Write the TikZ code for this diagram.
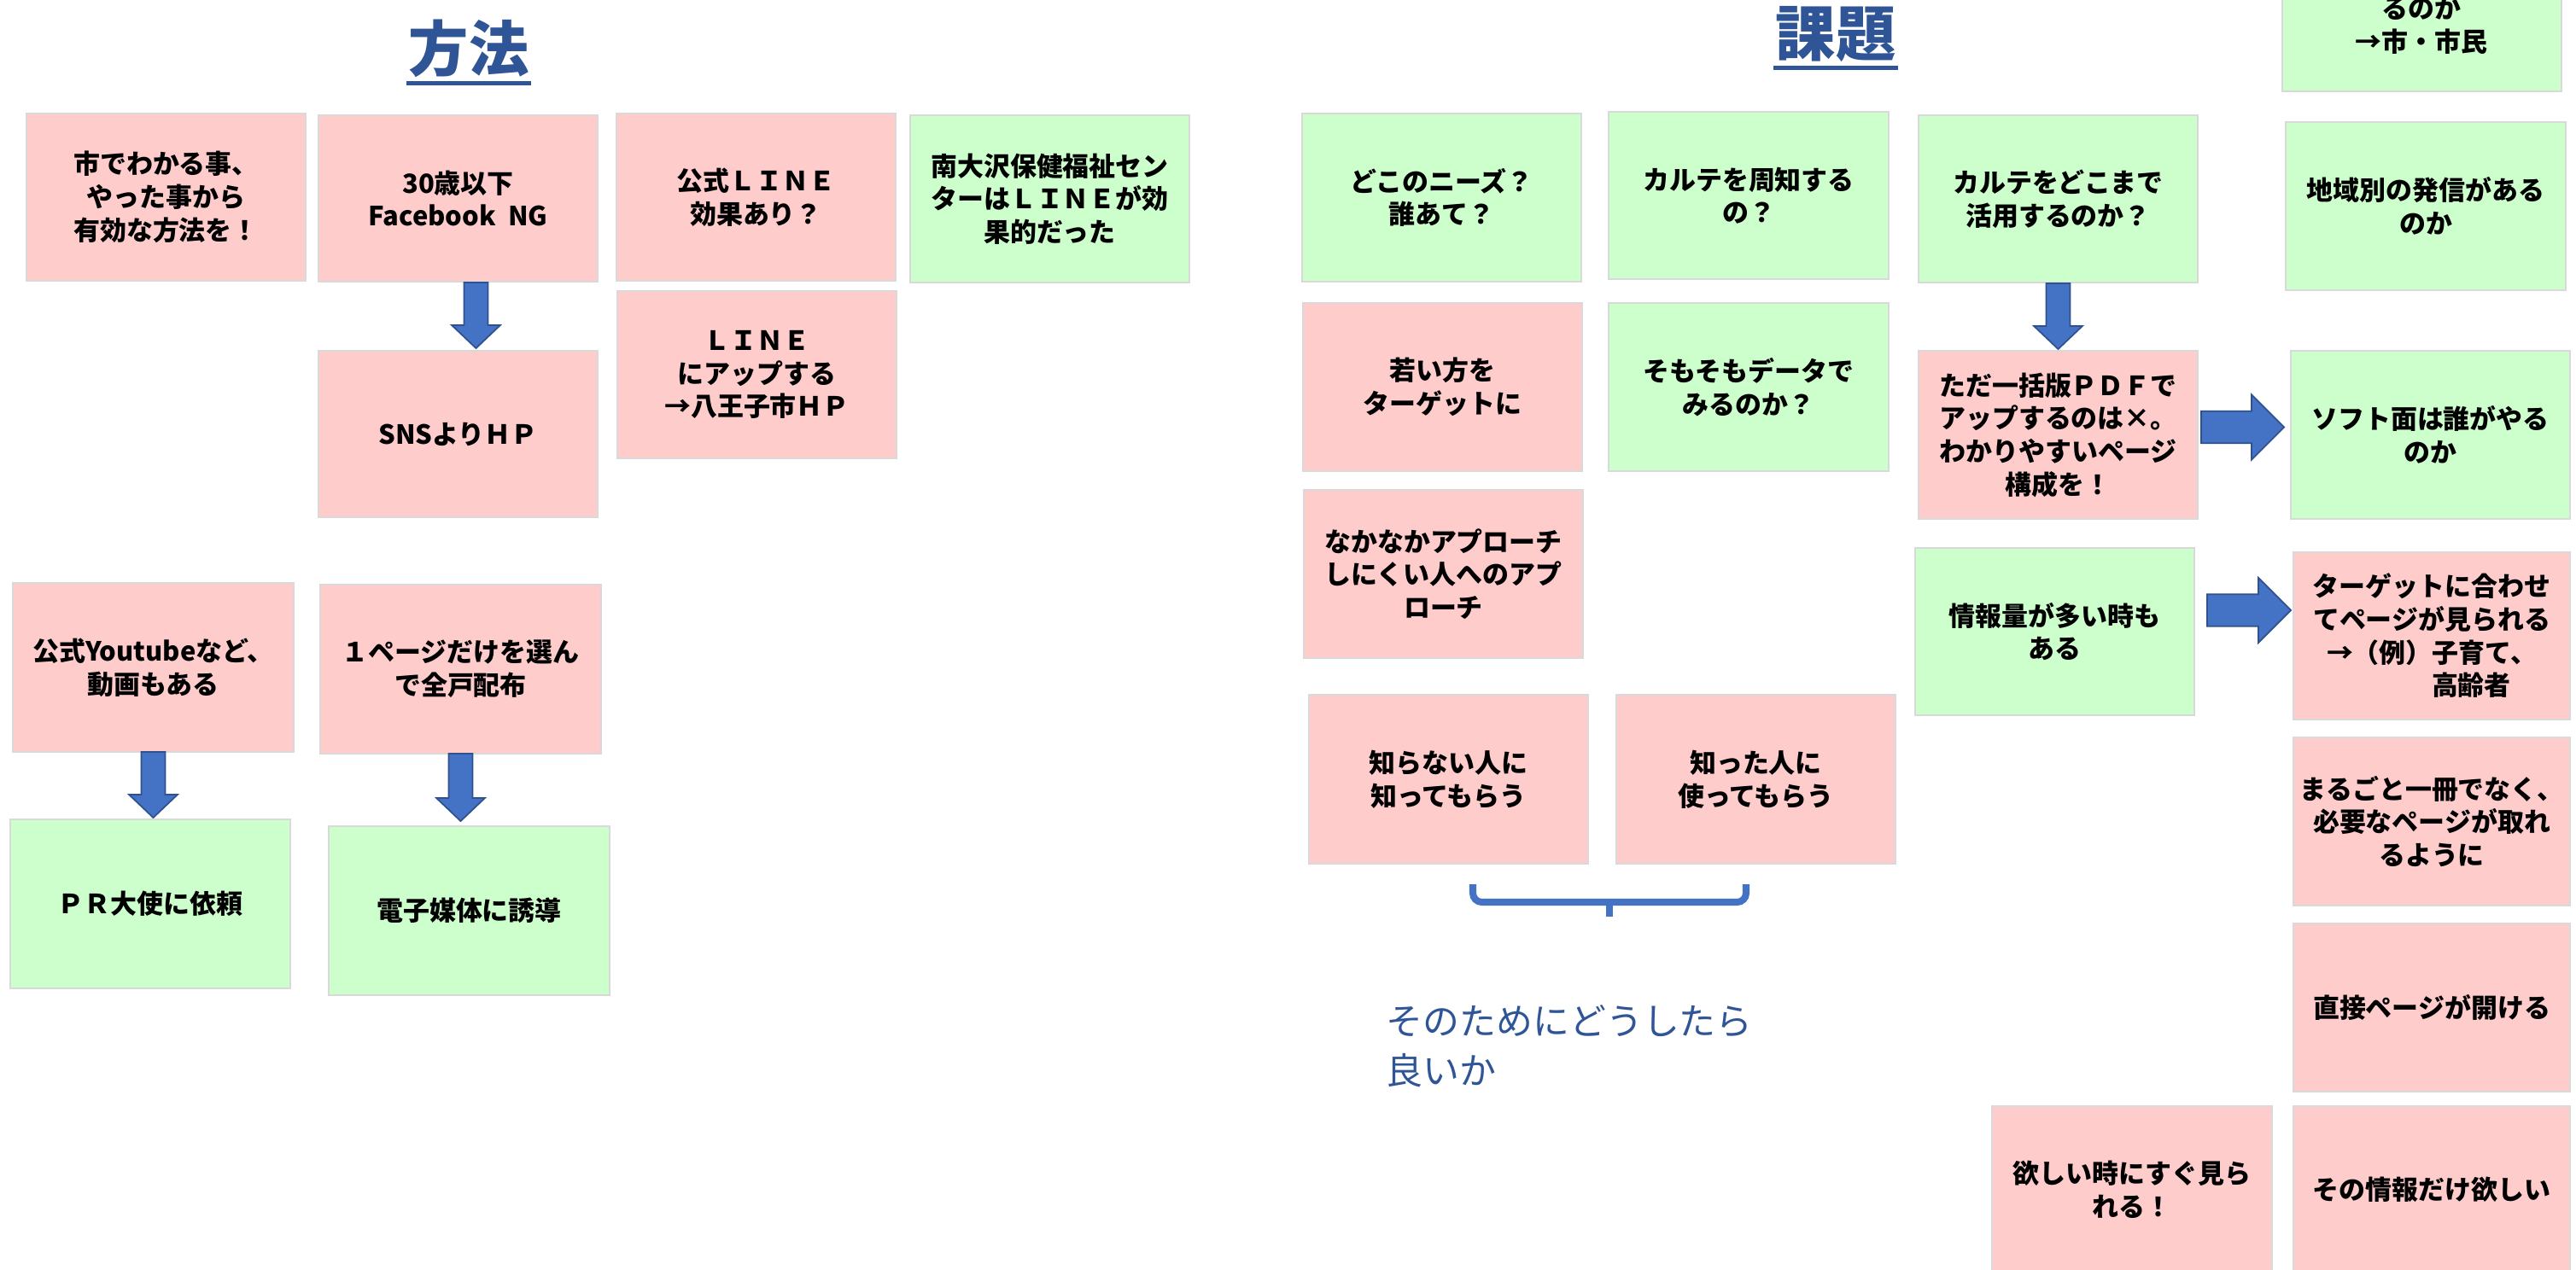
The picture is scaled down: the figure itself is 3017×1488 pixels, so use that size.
\documentclass[tikz,border=0pt]{standalone}
\usepackage{fontspec}
\setmainfont{Noto Sans CJK JP}
\usetikzlibrary{calc}
\definecolor{pinkbox}{HTML}{FFCCCC}
\definecolor{greenbox}{HTML}{CCFFCC}
\definecolor{boxline}{HTML}{D9D9D9}
\definecolor{arrfill}{HTML}{4472C4}
\definecolor{arrline}{HTML}{2F528F}
\definecolor{tblue}{HTML}{2F5597}
\tikzset{
  stk/.style={draw=boxline, line width=0.6pt, inner sep=0pt, outer sep=0pt, align=center,
    font=\bfseries\fontsize{8.8}{11}\selectfont, text=black},
  barr/.style={fill=arrfill, draw=arrline, line width=0.5pt, line join=miter},
  ttl/.style={font=\bfseries\fontsize{20}{24}\selectfont, text=tblue, inner sep=0pt},
  brc/.style={draw=arrfill, line width=2.3pt},
}
\newcommand\sticky[7]{%
  \node[stk, fill=#6, minimum width={(#4-#2)*0.01cm}, minimum height={(#5-#3)*0.01cm}]
    (#1) at ({(#2+#4)/2},{(#3+#5)/2}) {#7};}
\newcommand\darrow[2]{%
  \draw[barr] let \p1=(#1), \p2=(#2) in
    (\x1-4pt,\y1) -- (\x1+4pt,\y1) -- (\x1+4pt,\y2+7.7pt) -- (\x1+8.1pt,\y2+7.7pt)
    -- (\x1,\y2) -- (\x1-8.1pt,\y2+7.7pt) -- (\x1-4pt,\y2+7.7pt) -- cycle;}
\newcommand\rarrow[2]{%
  \draw[barr] let \p1=(#1), \p2=(#2) in
    (\x1,\y1+5.3pt) -- (\x2-10.8pt,\y1+5.3pt) -- (\x2-10.8pt,\y1+10.8pt) -- (\x2,\y1)
    -- (\x2-10.8pt,\y1-10.8pt) -- (\x2-10.8pt,\y1-5.3pt) -- (\x1,\y1-5.3pt) -- cycle;}
\begin{document}
\begin{tikzpicture}[x=0.01cm, y=-0.01cm]
\useasboundingbox (0,0) rectangle (3017,1488);
\clip (0,0) rectangle (3017,1488);
\fill[white] (0,0) rectangle (3017,1488);

% titles
\node[ttl] (t1) at (549,57) {方法};
\draw[tblue, line width=1.4pt] ($(t1.south west)+(-2,6)$) -- ($(t1.south east)+(2,6)$);
\node[ttl] (t2) at (2150,40) {課題};
\draw[tblue, line width=1.4pt] ($(t2.south west)+(-2,6)$) -- ($(t2.south east)+(2,6)$);

% left group
\sticky{m1}{31}{133}{358}{329}{pinkbox}{市でわかる事、\\やった事から\\有効な方法を！}
\sticky{m2}{373}{135}{700}{330}{pinkbox}{30歳以下\\Facebook\ \ NG}
\sticky{m3}{373}{411}{700}{606}{pinkbox}{SNSよりＨＰ}
\sticky{m4}{722}{133}{1049}{329}{pinkbox}{公式ＬＩＮＥ\\効果あり？}
\sticky{m5}{723}{341}{1050}{537}{pinkbox}{ＬＩＮＥ\\にアップする\\→八王子市ＨＰ}
\sticky{m6}{1066}{135}{1393}{331}{greenbox}{南大沢保健福祉セン\\ターはＬＩＮＥが効\\果的だった}
\sticky{m7}{15}{683}{344}{881}{pinkbox}{公式Youtubeなど、\\動画もある}
\sticky{m8}{375}{685}{704}{883}{pinkbox}{１ページだけを選ん\\で全戸配布}
\sticky{m9}{12}{960}{340}{1158}{greenbox}{ＰＲ大使に依頼}
\sticky{m10}{385}{968}{714}{1166}{greenbox}{電子媒体に誘導}

\darrow{$(m2.south)+(21,1)$}{$(m3.north)+(21,-3)$}
\darrow{$(m7.south)+(0,0)$}{$(m9.north)+(3,-2)$}
\darrow{$(m8.south)+(0,0)$}{$(m10.north)+(-10,-6)$}

% right group
\sticky{k1}{1525}{133}{1852}{330}{greenbox}{どこのニーズ？\\誰あて？}
\sticky{k2}{1884}{131}{2212}{327}{greenbox}{カルテを周知する\\の？}
\sticky{k3}{2247}{135}{2574}{331}{greenbox}{カルテをどこまで\\活用するのか？}
\node[stk, fill=greenbox, minimum width=3.27cm, minimum height=1.96cm] (k4) at (2836.5,9) {};
\node[stk, draw=none] (k4t) at (2836,30) {るのか\\→市・市民};
\sticky{k5}{2677}{143}{3005}{340}{greenbox}{地域別の発信がある\\のか}
\sticky{k6}{1526}{355}{1853}{552}{pinkbox}{若い方を\\ターゲットに}
\sticky{k7}{1884}{355}{2212}{552}{greenbox}{そもそもデータで\\みるのか？}
\sticky{k8}{2247}{411}{2574}{608}{pinkbox}{ただ一括版ＰＤＦで\\アップするのは×。\\わかりやすいページ\\構成を！}
\sticky{k9}{2683}{411}{3010}{608}{greenbox}{ソフト面は誰がやる\\のか}
\sticky{k10}{1527}{574}{1854}{771}{pinkbox}{なかなかアプローチ\\しにくい人へのアプ\\ローチ}
\sticky{k11}{2243}{642}{2570}{838}{greenbox}{情報量が多い時も\\ある}
\sticky{k12}{2686}{647}{3010}{843}{pinkbox}{ターゲットに合わせ\\てページが見られる\\→（例）子育て、\\\hspace*{3em}高齢者}
\sticky{k13}{1533}{814}{1860}{1012}{pinkbox}{知らない人に\\知ってもらう}
\sticky{k14}{1893}{814}{2220}{1012}{pinkbox}{知った人に\\使ってもらう}
\sticky{k15}{2686}{864}{3010}{1061}{pinkbox}{まるごと一冊でなく、\\必要なページが取れ\\るように}
\sticky{k16}{2686}{1082}{3010}{1279}{pinkbox}{直接ページが開ける}
\sticky{k17}{2333}{1296}{2661}{1492}{pinkbox}{欲しい時にすぐ見ら\\れる！}
\sticky{k18}{2686}{1296}{3010}{1492}{pinkbox}{その情報だけ欲しい}

\darrow{$(k3.south)+(0,1)$}{$(k8.north)+(0,-2)$}
\rarrow{$(k8.east)+(4,-9)$}{$(k9.west)+(-8,-9)$}
\rarrow{$(k11.east)+(15,-25)$}{$(k12.west)+(-3,-30)$}

% brace
\draw[brc, rounded corners=3pt] (1725,1036) -- (1725,1057) -- (2045,1057) -- (2045,1036);
\draw[brc] (1885,1057) -- (1885,1074);

\node[font=\fontsize{12.2}{16.5}\selectfont, text=tblue, align=left, anchor=west, inner sep=0pt]
  (q) at (1623,1226) {そのためにどうしたら\\良いか};
\end{tikzpicture}
\end{document}
